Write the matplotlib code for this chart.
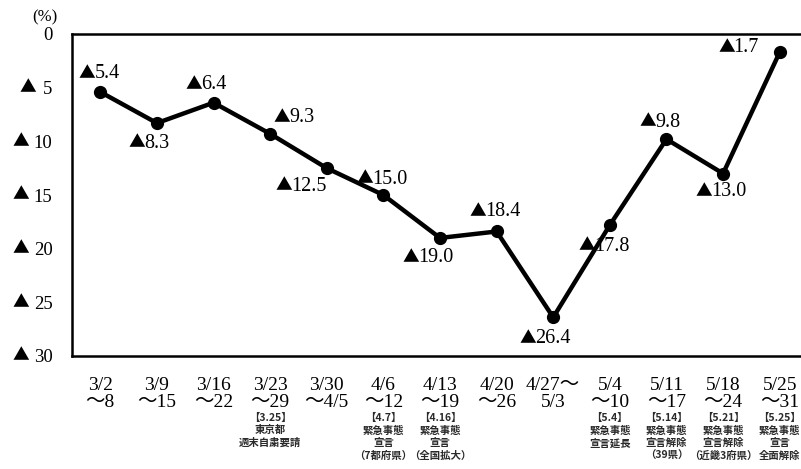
import matplotlib.pyplot as plt
from matplotlib.ticker import FixedLocator

# Weekly year-on-year change (%), shown as ▲ for declines
weeks = ["3/2\n～8", "3/9\n～15", "3/16\n～22", "3/23\n～29", "3/30\n～4/5",
         "4/6\n～12", "4/13\n～19", "4/20\n～26", "4/27～\n5/3", "5/4\n～10",
         "5/11\n～17", "5/18\n～24", "5/25\n～31"]
change = [-5.4, -8.3, -6.4, -9.3, -12.5, -15.0, -19.0, -18.4, -26.4, -17.8,
          -9.8, -13.0, -1.7]
y_ticks = [0, -5, -10, -15, -20, -25, -30]

# Policy events listed under the relevant week
event_week = [3, 5, 6, 9, 10, 11, 12]
event_text = [
    "【3.25】\n東京都\n週末自粛要請",
    "【4.7】\n緊急事態\n宣言\n（7都府県）",
    "【4.16】\n緊急事態\n宣言\n（全国拡大）",
    "【5.4】\n緊急事態\n宣言延長",
    "【5.14】\n緊急事態\n宣言解除\n（39県）",
    "【5.21】\n緊急事態\n宣言解除\n（近畿3府県）",
    "【5.25】\n緊急事態\n宣言\n全面解除",
]

# where each "▲value" label sits relative to its point
# (pixels to the junction between triangle and number, x right / y up)
label_offset = [(-6, 18), (-13, -20), (-12, 18), (19, 16), (-36, -18), (-11, 16),
                (-22, -20), (-11, 20), (-18, -21), (-16, -21), (-11, 17), (-12, -18),
                (-46, 5)]

SERIF = ["Liberation Serif", "Noto Sans CJK JP", "DejaVu Sans"]
CJK = ["Noto Sans CJK JP", "DejaVu Sans"]

W, H = 801, 469
fig = plt.figure(figsize=(W / 100, H / 100), dpi=100)
fig.patch.set_facecolor("white")

left, right, top, bottom = 72, 808, 34, 356
ax = fig.add_axes([left / W, 1 - bottom / H, (right - left) / W, (bottom - top) / H])

x = list(range(len(change)))
ax.plot(x, change, color="black", lw=3.2, marker="o", ms=8.5,
        markerfacecolor="black", markeredgecolor="black", clip_on=False, zorder=3)

for xi, v, (dx, dy) in zip(x, change, label_offset):
    ax.annotate("▲", xy=(xi, v), xytext=(dx + 1, dy), textcoords="offset pixels",
                ha="right", va="center", fontsize=12, family=CJK, color="black")
    ax.annotate(f"{abs(v):.1f}", xy=(xi, v), xytext=(dx, dy), textcoords="offset pixels",
                ha="left", va="center", fontsize=14.5, family=SERIF, color="black")

ax.set_xlim(-0.5, len(change) - 0.5)
ax.set_ylim(-30, 0)
ax.yaxis.set_major_locator(FixedLocator(y_ticks))
ax.set_yticklabels([f"{abs(t)}" for t in y_ticks], family=SERIF, fontsize=13.5)
ax.set_xticks(x)
ax.set_xticklabels(weeks, family=SERIF, fontsize=14, linespacing=1.0)
ax.tick_params(axis="both", length=0)
ax.tick_params(axis="y", pad=14)
ax.tick_params(axis="x", pad=15)

# decline marks in front of the non-zero y tick values
ytrans = ax.get_yaxis_transform()
for t in y_ticks:
    if t == 0:
        continue
    shift = -44 if abs(t) < 10 else -51
    ax.annotate("▲", xy=(0, t), xycoords=ytrans, xytext=(shift, 0),
                textcoords="offset pixels", ha="center", va="center",
                fontsize=12, family=CJK, color="black", annotation_clip=False)

for s in ax.spines.values():
    s.set_linewidth(1.8)
    s.set_color("black")

fig.text(45 / W, 1 - 17 / H, "(%)", ha="center", va="center",
         family=SERIF, fontsize=12)

for wk, txt in zip(event_week, event_text):
    xf = (left + (wk + 0.5) * (right - left) / len(change)) / W
    fig.text(xf, 1 - 413 / H, txt, ha="center", va="top", fontsize=7.5,
             family=CJK, fontweight="bold", color="#2a2a2a", linespacing=1.3)

fig.savefig("out.png", dpi=100, facecolor="white")
